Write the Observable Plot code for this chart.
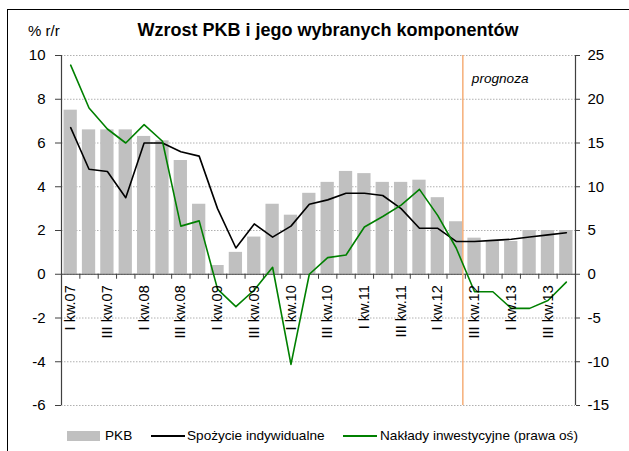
<!DOCTYPE html>
<html><head><meta charset="utf-8">
<script src="https://cdn.jsdelivr.net/npm/d3@7"></script>
<script src="https://cdn.jsdelivr.net/npm/@observablehq/plot@0.6"></script>
<style>
html,body{margin:0;padding:0;background:#fff;}
#wrap{position:relative;width:629px;height:451px;overflow:hidden;font-family:"Liberation Sans",Arial,sans-serif;color:#000;}
#border{position:absolute;left:7px;top:9px;width:640px;height:460px;border-left:1px solid #000;border-top:1px solid #000;}
#chart{position:absolute;left:0;top:0;}
#title{position:absolute;left:0;width:656px;top:20px;text-align:center;font-weight:bold;font-size:18px;line-height:21px;white-space:nowrap;}
#unit{position:absolute;left:28px;top:22px;font-size:15px;line-height:18px;}
.sw{position:absolute;}
.lt{position:absolute;top:427px;font-size:13.6px;line-height:18px;white-space:nowrap;}
</style></head>
<body>
<div id="wrap">
  <div id="border"></div>
  <div id="chart"></div>
  <div id="title">Wzrost PKB i jego wybranych komponentów</div>
  <div id="unit">% r/r</div>
  <div id="legend"></div>
</div>
<script>
const quarters = [
  "I kw.07","II kw.07","III kw.07","IV kw.07",
  "I kw.08","II kw.08","III kw.08","IV kw.08",
  "I kw.09","II kw.09","III kw.09","IV kw.09",
  "I kw.10","II kw.10","III kw.10","IV kw.10",
  "I kw.11","II kw.11","III kw.11","IV kw.11",
  "I kw.12","II kw.12","III kw.12","IV kw.12",
  "I kw.13","II kw.13","III kw.13","IV kw.13"
];
const pkb = [7.5,6.6,6.6,6.6, 6.3,6.1,5.2,3.2, 0.4,1.0,1.7,3.2, 2.7,3.7,4.2,4.7, 4.6,4.2,4.2,4.3, 3.5,2.4,1.65,1.5, 1.5,2.0,2.0,2.0];
const spozycie = [6.7,4.8,4.7,3.5, 6.0,6.0,5.6,5.4, 3.0,1.2,2.3,1.7, 2.2,3.2,3.4,3.7, 3.7,3.6,3.0,2.1, 2.1,1.5,1.5,1.55, 1.6,1.7,1.8,1.9];
const inwestycje = [23.9,19.0,16.6,15.0, 17.1,15.2,5.5,6.1, -1.7,-3.7,-1.8,0.8, -10.3,0.0,1.9,2.2, 5.4,6.6,7.9,9.7, 6.7,3.0,-2.0,-2.0, -3.9,-3.9,-3.0,-0.9];
const leftTicks = [-6,-4,-2,0,2,4,6,8,10];
const axisRatio = 2.5; // prawa oś = lewa oś * 2.5
const lastActual = "II kw.12";
const seriesNames = ["PKB","Spożycie indywidualne","Nakłady inwestycyjne (prawa oś)"];
const colors = {pkb:"#c0c0c0", sp:"#000000", inv:"#008000", forecast:"#f6b380", axis:"#404040", grid:"#b0b0b0"};

const data = quarters.map((q,i)=>({q, i, pkb:pkb[i], sp:spozycie[i], inv:inwestycje[i]}));
const labelData = data.filter(d => d.i % 2 === 0);
const bounds = d3.range(-0.5, quarters.length, 1);
const half = 0.362;
const forecastX = quarters.indexOf(lastActual) + half;

const W=629, H=451, mL=61, mR=54, mT=55, mB=46;
const yDomain = [leftTicks[0], leftTicks[leftTicks.length-1]];
const tickUnits = 5*(yDomain[1]-yDomain[0])/(H-mT-mB);
const font = '"Liberation Sans", Arial, sans-serif';

const chart = Plot.plot({
  width:W, height:H, marginLeft:mL, marginRight:mR, marginTop:mT, marginBottom:mB,
  style:{fontFamily:font, fontSize:"14px", background:"transparent", color:"#000", overflow:"visible"},
  x:{domain:[-0.5, quarters.length-0.5], axis:null},
  y:{domain:yDomain, axis:null},
  marks:[
    Plot.gridY(leftTicks, {stroke:colors.grid, strokeOpacity:1, strokeDasharray:"1.5,1.5"}),
    Plot.rectY(data, {x1:d=>d.i-half, x2:d=>d.i+half, y:"pkb", fill:colors.pkb}),
    Plot.ruleY([0], {stroke:colors.axis, strokeWidth:1.2}),
    Plot.ruleX(bounds, {x:d=>d, y1:0, y2:-tickUnits, stroke:colors.axis}),
    Plot.ruleX([forecastX], {stroke:colors.forecast, strokeWidth:1.6}),
    Plot.line(data, {x:"i", y:"sp", stroke:colors.sp, strokeWidth:1.6}),
    Plot.line(data, {x:"i", y:d=>d.inv/axisRatio, stroke:colors.inv, strokeWidth:1.6}),
    Plot.ruleX([-0.5, quarters.length-0.5], {stroke:colors.axis, strokeWidth:1.2}),
    Plot.axisY({anchor:"left", ticks:leftTicks, tickSize:6, tickPadding:10, tickFormat:d=>String(d), fontSize:15, stroke:colors.axis, fill:"#000"}),
    Plot.axisY({anchor:"right", ticks:leftTicks, tickSize:4, tickPadding:8, tickFormat:d=>String(d*axisRatio), fontSize:15, stroke:colors.axis, fill:"#000"}),
    Plot.text(labelData, {x:"i", y:()=>0, text:"q", rotate:-90, textAnchor:"end", lineAnchor:"middle", dy:11, fontSize:14.5, fill:"#000"}),
    Plot.text([{x:forecastX, t:"prognoza"}], {x:"x", frameAnchor:"top", text:"t", textAnchor:"start", dx:9, dy:18, fontSize:13.6, fontStyle:"italic", fill:"#000"})
  ]
});
document.getElementById("chart").appendChild(chart);

// legend
const leg = document.getElementById("legend");
function add(html){ leg.insertAdjacentHTML("beforeend", html); }
add(`<div class="sw" style="left:67px;top:431px;width:33px;height:10px;background:${colors.pkb}"></div>`);
add(`<div class="lt" style="left:105px">${seriesNames[0]}</div>`);
add(`<div class="sw" style="left:151px;top:435px;width:34px;height:1.6px;background:${colors.sp}"></div>`);
add(`<div class="lt" style="left:187px">${seriesNames[1]}</div>`);
add(`<div class="sw" style="left:343px;top:435px;width:34px;height:1.6px;background:${colors.inv}"></div>`);
add(`<div class="lt" style="left:380px">${seriesNames[2]}</div>`);
</script>
</body></html>
